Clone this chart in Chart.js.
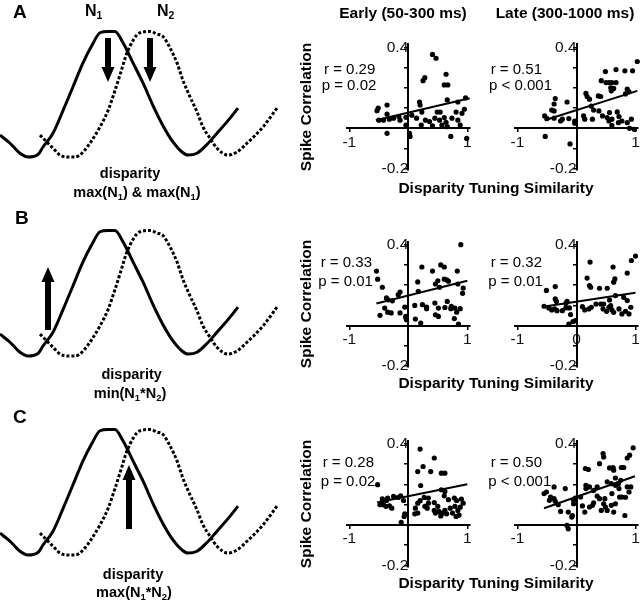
<!DOCTYPE html>
<html><head><meta charset="utf-8">
<script src="https://cdn.jsdelivr.net/npm/chart.js@4.4.0/dist/chart.umd.min.js"></script>
<style>
html,body{margin:0;padding:0;background:#fff;overflow:hidden;}
#fig{position:relative;width:640px;height:600px;font-family:"Liberation Sans",Arial,Helvetica,sans-serif;color:#000;}
#fig canvas{position:absolute;}
.t{position:absolute;white-space:nowrap;line-height:1;}
.b{font-weight:bold;}
.c{transform:translateX(-50%);}
.rot{transform:translate(-50%,-50%) rotate(-90deg);}
sub{font-size:0.65em;vertical-align:-0.28em;line-height:0;}
</style></head><body>
<div id="fig">
  <div class="t b" style="left:13px;top:2.4px;font-size:19px">A</div>
  <div class="t b" style="left:15px;top:208px;font-size:19px">B</div>
  <div class="t b" style="left:13px;top:407px;font-size:19px">C</div>
  <div class="t b" style="left:85px;top:3.2px;font-size:16px">N<sub>1</sub></div>
  <div class="t b" style="left:157px;top:3.2px;font-size:16px">N<sub>2</sub></div>

  <div class="t b c" style="left:130px;top:166px;font-size:14.5px">disparity</div>
  <div class="t b c" style="left:137px;top:184.6px;font-size:14.5px">max(N<sub>1</sub>) &amp; max(N<sub>1</sub>)</div>
  <div class="t b c" style="left:131.7px;top:367px;font-size:14.5px">disparity</div>
  <div class="t b c" style="left:130px;top:386.2px;font-size:14.5px">min(N<sub>1</sub>*N<sub>2</sub>)</div>
  <div class="t b c" style="left:133px;top:567px;font-size:14.5px">disparity</div>
  <div class="t b c" style="left:134px;top:584.6px;font-size:14.5px">max(N<sub>1</sub>*N<sub>2</sub>)</div>

  <div class="t b c" style="left:403px;top:5px;font-size:15.5px">Early (50-300 ms)</div>
  <div class="t b c" style="left:565px;top:5px;font-size:15.5px">Late (300-1000 ms)</div>

  <div class="t b rot" style="left:306px;top:106.5px;font-size:15.5px">Spike Correlation</div>
  <div class="t b rot" style="left:306px;top:304px;font-size:15.5px">Spike Correlation</div>
  <div class="t b rot" style="left:306px;top:504px;font-size:15.5px">Spike Correlation</div>

  <div class="t b c" style="left:496px;top:180.2px;font-size:15.5px">Disparity Tuning Similarity</div>
  <div class="t b c" style="left:496px;top:375.2px;font-size:15.5px">Disparity Tuning Similarity</div>
  <div class="t b c" style="left:496px;top:574.5px;font-size:15.5px">Disparity Tuning Similarity</div>
</div>
<script>
// ---------- Tuning curves (disparity in arbitrary units, normalised response) ----------
const n1X = [0,10,20,28,38,43,53,63,73,83,92,100,108,115,123,133,143,153,163,173,182,188,197,207,217,228,238];
const n1Y = [0.175,0.11,0.03,0,0.02,0.08,0.19,0.37,0.56,0.75,0.89,0.99,1.0,1.0,0.91,0.75,0.59,0.41,0.25,0.12,0.04,0.016,0.03,0.1,0.19,0.29,0.39];
const n2X = [40,53,60,68,75,83,100,108,115,121,127,140,150,157,163,170,177,183,190,197,203,210,217,228,237,247,263,277];
const n2Y = [0.175,0.07,0.016,0,0,0.04,0.24,0.37,0.53,0.68,0.83,0.99,1.0,0.98,0.96,0.87,0.75,0.61,0.48,0.36,0.24,0.15,0.07,0.016,0.04,0.11,0.24,0.39];

// arrows per panel: disparity position, tail response, tip response
const arrowsAX = [108, 150], arrowsATail = [0.948, 0.948], arrowsATip = [0.598, 0.598];
const arrowsBX = [48],       arrowsBTail = [0.207],        arrowsBTip = [0.71];
const arrowsCX = [129],      arrowsCTail = [0.207],        arrowsCTip = [0.717];

// ---------- Scatter data: x = disparity tuning similarity, y = spike correlation ----------
const aEarlyX = [0.41,0.47,0.28,0.25,0.64,0.61,0.67,0.19,0.20,-0.36,-0.51,-0.53,-0.36,-0.50,-0.42,-0.32,-0.25,-0.16,-0.14,-0.04,-0.04,-0.36,0.02,0.03,0.14,0.23,0.22,0.29,0.36,0.41,0.45,0.49,0.54,0.53,0.57,0.61,0.64,0.66,0.66,0.74,0.81,0.84,0.84,0.88,0.91,0.95,0.97,0.72,0.99,0.06];
const aEarlyY = [0.365,0.346,0.25,0.235,0.267,0.214,0.214,0.13,0.115,0.115,0.10,0.087,0.07,0.04,0.04,0.045,0.05,0.058,0.04,0.054,0.016,-0.025,-0.025,-0.04,0.05,0.08,0.016,0.04,0.033,0.012,0.05,0.08,0.08,0.04,0.016,0.053,0.03,0.008,0.14,0.05,0.08,0.04,0.13,0.016,0.074,0.094,0.15,-0.04,-0.05,0.065];
const aEarlyFitX = [-0.55, 1.04], aEarlyFitY = [0.04, 0.148];

const aLateX = [1.03,0.49,0.67,0.82,0.95,0.42,0.50,0.55,0.60,0.67,0.58,0.63,0.59,0.86,0.89,0.83,0.16,0.18,0.22,0.37,0.41,-0.36,-0.16,-0.38,-0.42,-0.38,-0.54,-0.50,-0.38,-0.27,-0.24,-0.13,-0.03,-0.03,-0.53,-0.11,0.12,0.14,0.27,0.29,0.25,0.38,0.44,0.52,0.56,0.55,0.60,0.69,0.72,0.71,0.77,0.86,0.93,0.90,0.98,0.60];
const aLateY = [0.33,0.28,0.29,0.284,0.284,0.235,0.226,0.226,0.226,0.226,0.20,0.197,0.185,0.193,0.18,0.17,0.172,0.157,0.144,0.16,0.157,0.147,0.13,0.12,0.09,0.086,0.061,0.048,0.05,0.036,0.045,0.048,0.036,0.025,-0.04,-0.077,0.061,0.045,0.045,0.09,0.11,0.086,0.061,0.053,0.078,0.036,0.045,0.081,0.058,0.028,0.036,0.028,0.045,0.0,-0.005,0.015];
const aLateFitX = [-0.54, 1.03], aLateFitY = [0.04, 0.185];

const bEarlyX = [0.89,0.23,0.41,0.55,0.61,0.83,-0.54,-0.52,-0.44,0.16,0.17,0.46,0.50,0.53,0.61,0.65,0.68,0.84,0.93,0.92,-0.37,-0.34,-0.27,-0.17,-0.14,-0.40,-0.35,-0.29,-0.48,-0.14,-0.06,-0.045,-0.03,-0.04,0.11,0.24,0.31,0.31,0.12,0.21,0.45,0.51,0.46,0.51,0.62,0.66,0.73,0.72,0.79,0.82,0.88,0.78,0.85];
const bEarlyY = [0.40,0.29,0.27,0.30,0.29,0.27,0.27,0.23,0.19,0.216,0.17,0.206,0.222,0.19,0.23,0.226,0.22,0.206,0.186,0.16,0.137,0.128,0.123,0.153,0.166,0.087,0.067,0.063,0.051,0.063,0.092,0.046,0.03,0.038,0.10,0.104,0.092,0.084,0.033,0.013,0.112,0.087,0.054,0.046,0.09,0.12,0.095,0.084,0.087,0.067,0.084,0.035,0.008];
const bEarlyFitX = [-0.54, 1.0], bEarlyFitY = [0.11, 0.222];

const bLateX = [1.0,0.93,0.23,0.62,0.86,0.18,0.22,0.24,0.39,0.52,0.65,0.63,-0.51,-0.36,-0.36,-0.34,-0.16,-0.18,-0.55,-0.47,-0.42,-0.37,-0.33,-0.24,-0.18,-0.12,-0.10,-0.06,-0.02,-0.13,0.10,0.14,0.21,0.25,0.33,0.41,0.45,0.51,0.55,0.58,0.60,0.63,0.72,0.77,0.83,0.89,0.92,0.86,0.80,0.66,0.56,0.46];
const bLateY = [0.344,0.322,0.314,0.29,0.26,0.235,0.198,0.19,0.185,0.185,0.231,0.215,0.174,0.193,0.132,0.12,0.12,0.11,0.096,0.088,0.078,0.083,0.074,0.074,0.088,0.088,0.055,0.02,0.025,0.008,0.094,0.078,0.083,0.091,0.107,0.107,0.083,0.071,0.091,0.099,0.078,0.066,0.083,0.058,0.071,0.058,0.091,0.124,0.14,0.149,0.127,0.107];
const bLateFitX = [-0.54, 1.0], bLateFitY = [0.095, 0.163];

const cEarlyX = [0.20,0.44,0.25,0.16,0.38,0.56,0.62,-0.52,0.21,0.56,0.62,0.61,-0.35,-0.37,-0.44,-0.25,-0.17,-0.13,-0.45,-0.48,-0.42,-0.38,-0.32,-0.28,-0.08,-0.06,-0.07,-0.12,0.12,0.16,0.20,0.27,0.34,0.34,0.16,0.11,0.28,0.32,0.44,0.44,0.46,0.50,0.52,0.55,0.59,0.62,0.65,0.71,0.75,0.79,0.82,0.84,0.88,0.90,0.86,0.81,0.93,0.78,0.68];
const cEarlyY = [0.374,0.33,0.288,0.263,0.263,0.255,0.255,0.198,0.194,0.173,0.165,0.143,0.132,0.12,0.128,0.14,0.135,0.143,0.11,0.099,0.099,0.091,0.094,0.082,0.12,0.054,0.041,0.012,0.082,0.107,0.119,0.135,0.132,0.107,0.058,0.054,0.091,0.082,0.11,0.071,0.058,0.091,0.066,0.044,0.058,0.071,0.054,0.082,0.058,0.091,0.12,0.071,0.087,0.127,0.048,0.041,0.107,0.132,0.124];
const cEarlyFitX = [-0.53, 1.0], cEarlyFitY = [0.11, 0.2];

const cLateX = [0.96,0.45,0.46,0.90,0.86,0.39,0.56,0.62,0.63,0.80,0.76,0.15,0.20,-0.19,-0.38,0.16,0.22,0.29,0.35,0.16,0.52,0.59,0.66,0.71,0.75,0.66,0.86,0.92,0.89,0.77,0.73,0.83,0.60,0.48,0.46,0.49,0.66,0.72,-0.55,-0.51,-0.44,-0.46,-0.36,-0.38,-0.31,-0.27,-0.14,-0.05,-0.05,-0.07,-0.08,-0.16,-0.02,0.07,0.10,0.14,0.22,0.27,0.29,0.39,0.35,0.42,0.52,0.59,0.63,0.82,-0.14];
const cLateY = [0.38,0.352,0.335,0.344,0.33,0.302,0.281,0.283,0.27,0.283,0.283,0.278,0.273,0.179,0.187,0.195,0.187,0.17,0.187,0.179,0.212,0.203,0.195,0.203,0.22,0.231,0.187,0.187,0.162,0.137,0.137,0.136,0.154,0.129,0.104,0.088,0.104,0.179,0.154,0.162,0.137,0.121,0.116,0.129,0.099,0.066,0.063,0.121,0.104,0.046,0.038,-0.003,0.132,0.137,0.093,0.063,0.088,0.096,0.109,0.129,0.142,0.071,0.071,0.096,0.063,0.046,-0.02];
const cLateFitX = [-0.55, 0.99], cLateFitY = [0.082, 0.24];

// axis ticks
const xTickVals = [-1, 1], xTickText = ['-1', '1'];
const xTickValsZero = [-1, 0, 1], xTickTextZero = ['-1', '0', '1'];
const yTickVals = [-0.2, -0.1, 0.1, 0.2, 0.3, 0.4], yTickText = ['-0.2', '', '', '', '', '0.4'];

// statistics text
const statR = ['0.29', '0.51', '0.33', '0.32', '0.28', '0.50'];
const statP = ['= 0.02', '< 0.001', '= 0.01', '= 0.01', '= 0.02', '< 0.001'];

// ---------- drawing ----------
const fig = document.getElementById('fig');
const FONT = '"Liberation Sans", Arial, Helvetica, sans-serif';
function makeCanvas(left, top, w, h) {
  const c = document.createElement('canvas');
  c.width = w; c.height = h;
  c.style.left = left + 'px'; c.style.top = top + 'px';
  c.style.width = w + 'px'; c.style.height = h + 'px';
  fig.insertBefore(c, fig.firstChild);
  return c;
}
function pts(xs, ys) { return xs.map((x, i) => ({ x: x, y: ys[i] })); }

const arrowPlugin = {
  id: 'arrows',
  afterDatasetsDraw(chart, args, opts) {
    const ctx = chart.ctx, xs = chart.scales.x, ys = chart.scales.y;
    (opts.xs || []).forEach((ax, i) => {
      const px = xs.getPixelForValue(ax);
      const p0 = ys.getPixelForValue(opts.tails[i]);
      const p1 = ys.getPixelForValue(opts.tips[i]);
      const dir = Math.sign(p1 - p0);
      const headLen = 15, headW = 6.5, sh = 3;
      const hb = p1 - dir * headLen;
      ctx.save();
      ctx.fillStyle = '#000';
      ctx.beginPath();
      ctx.moveTo(px - sh, p0); ctx.lineTo(px + sh, p0); ctx.lineTo(px + sh, hb);
      ctx.lineTo(px + headW, hb); ctx.lineTo(px, p1); ctx.lineTo(px - headW, hb);
      ctx.lineTo(px - sh, hb); ctx.closePath(); ctx.fill();
      ctx.restore();
    });
  }
};

function tuningChart(top, ax, at, ap) {
  const c = makeCanvas(0, top, 290, 175);
  new Chart(c, {
    type: 'line',
    data: { datasets: [
      { data: pts(n1X, n1Y), borderColor: '#000', borderWidth: 3, pointRadius: 0, cubicInterpolationMode: 'monotone', clip: false },
      { data: pts(n2X, n2Y), borderColor: '#000', borderWidth: 3, borderDash: [3, 2], pointRadius: 0, cubicInterpolationMode: 'monotone', clip: false }
    ] },
    options: {
      responsive: false, animation: false, devicePixelRatio: 1,
      layout: { padding: 0 },
      plugins: { legend: { display: false }, tooltip: { enabled: false }, arrows: { xs: ax, tails: at, tips: ap } },
      scales: {
        x: { type: 'linear', display: false, min: 0, max: 290 },
        y: { type: 'linear', display: false, min: -0.143, max: 1.251 }
      }
    },
    plugins: [arrowPlugin]
  });
}
tuningChart(0, arrowsAX, arrowsATail, arrowsATip);
tuningChart(199, arrowsBX, arrowsBTail, arrowsBTip);
tuningChart(398, arrowsCX, arrowsCTail, arrowsCTip);

const XMIN = -1.04, XMAX = 1.04, YMIN = -0.205, YMAX = 0.415;
const PXX = 59, PXY = 202.5;
function scatterChart(axisX, zeroY, xs, ys, fx, fy, xtv, xtt, idx, statLeftR, statLeftP, statYR, statYP) {
  const W = 175, H = 170;
  const cl = Math.round(axisX - 100), ct = Math.round(zeroY - 108);
  const areaL = axisX + XMIN * PXX, areaR = axisX + XMAX * PXX;
  const areaT = zeroY - YMAX * PXY, areaB = zeroY - YMIN * PXY;
  const c = makeCanvas(cl, ct, W, H);
  const tickFont = { family: FONT, size: 15.5 };
  new Chart(c, {
    type: 'scatter',
    data: { datasets: [
      { data: pts(xs, ys), pointRadius: 2.6, pointBackgroundColor: '#000', pointBorderWidth: 0, pointHoverRadius: 2.6, clip: false },
      { type: 'line', data: pts(fx, fy), borderColor: '#000', borderWidth: 2, pointRadius: 0, fill: false, tension: 0, clip: false }
    ] },
    options: {
      responsive: false, animation: false, devicePixelRatio: 1,
      layout: { padding: { left: areaL - cl, right: cl + W - areaR, top: areaT - ct, bottom: ct + H - areaB } },
      plugins: { legend: { display: false }, tooltip: { enabled: false } },
      scales: {
        x: {
          type: 'linear', min: XMIN, max: XMAX, position: { y: 0 },
          afterBuildTicks: s => { s.ticks = xtv.map(v => ({ value: v })); },
          ticks: { autoSkip: false, maxRotation: 0, padding: 2, color: '#111', font: tickFont,
                   callback: (v) => xtt[xtv.indexOf(v)] },
          grid: { drawOnChartArea: false, drawTicks: true, tickLength: 3, color: '#000', lineWidth: 1.5 },
          border: { display: true, color: '#000', width: 2 }
        },
        y: {
          type: 'linear', min: YMIN, max: YMAX, position: { x: 0 },
          afterBuildTicks: s => { s.ticks = yTickVals.map(v => ({ value: v })); },
          ticks: { autoSkip: false, padding: 1, color: '#111', font: tickFont,
                   callback: (v) => { const k = yTickVals.findIndex(t => Math.abs(t - v) < 1e-9); return yTickText[k]; } },
          grid: { drawOnChartArea: false, drawTicks: true, tickLength: 3, color: '#000', lineWidth: 1.5 },
          border: { display: true, color: '#000', width: 2 }
        }
      }
    }
  });
  const r = document.createElement('div');
  r.className = 't'; r.style.fontSize = '15px';
  r.style.left = statLeftR + 'px'; r.style.top = (statYR - 7.5) + 'px';
  r.textContent = 'r = ' + statR[idx];
  fig.appendChild(r);
  const p = document.createElement('div');
  p.className = 't'; p.style.fontSize = '15px';
  p.style.left = statLeftP + 'px'; p.style.top = (statYP - 7.5) + 'px';
  p.textContent = 'p ' + statP[idx];
  fig.appendChild(p);
}
const EARLY_AXIS = 408.3, LATE_AXIS = 576.5;
scatterChart(EARLY_AXIS, 128.3, aEarlyX, aEarlyY, aEarlyFitX, aEarlyFitY, xTickVals, xTickText, 0, 324, 321.7, 68.7, 84);
scatterChart(LATE_AXIS, 128.3, aLateX, aLateY, aLateFitX, aLateFitY, xTickVals, xTickText, 1, 490.7, 489, 68.7, 84);
scatterChart(EARLY_AXIS, 325.7, bEarlyX, bEarlyY, bEarlyFitX, bEarlyFitY, xTickVals, xTickText, 2, 320.7, 318.3, 261.7, 280);
scatterChart(LATE_AXIS, 325.7, bLateX, bLateY, bLateFitX, bLateFitY, xTickValsZero, xTickTextZero, 3, 490.7, 488.3, 261.7, 280);
scatterChart(EARLY_AXIS, 524.8, cEarlyX, cEarlyY, cEarlyFitX, cEarlyFitY, xTickVals, xTickText, 4, 322.7, 320.7, 461.7, 480);
scatterChart(LATE_AXIS, 524.8, cLateX, cLateY, cLateFitX, cLateFitY, xTickVals, xTickText, 5, 490.7, 488.3, 461.7, 480);
</script>
</body></html>
